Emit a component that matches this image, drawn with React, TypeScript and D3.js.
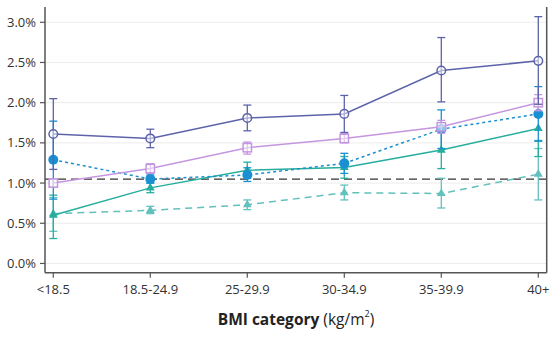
import React from "react";
import * as d3 from "d3";

const categories = ["<18.5", "18.5-24.9", "25-29.9", "30-34.9", "35-39.9", "40+"];
const yTicks = [0, 0.5, 1.0, 1.5, 2.0, 2.5, 3.0];
const referenceValue = 1.05;

const s1Values = [1.61, 1.555, 1.81, 1.86, 2.4, 2.52];
const s1Lower = [1.17, 1.44, 1.65, 1.63, 2.01, 1.98];
const s1Upper = [2.05, 1.67, 1.97, 2.09, 2.81, 3.07];

const s2Values = [1.0, 1.18, 1.44, 1.555, 1.7, 2.0];
const s2Lower = [0.95, 1.12, 1.36, 1.5, 1.62, 1.9];
const s2Upper = [1.05, 1.24, 1.51, 1.62, 1.78, 2.1];

const s3Values = [1.29, 1.05, 1.1, 1.245, 1.67, 1.86];
const s3Lower = [0.8, 1.0, 1.02, 1.12, 1.43, 1.52];
const s3Upper = [1.77, 1.1, 1.19, 1.37, 1.91, 2.2];

const s4Values = [0.6, 0.94, 1.16, 1.195, 1.41, 1.68];
const s4Lower = [0.31, 0.88, 1.06, 1.06, 1.18, 1.33];
const s4Upper = [0.85, 1.0, 1.26, 1.33, 1.64, 1.53];

const s5Values = [0.62, 0.66, 0.73, 0.88, 0.87, 1.11];
const s5Lower = [0.4, 0.62, 0.67, 0.79, 0.69, 0.79];
const s5Upper = [0.82, 0.71, 0.79, 0.975, 1.06, 1.43];

type Series = {
  values: number[];
  lower: number[];
  upper: number[];
  color: string;
  dash: string;
  marker: "openCircle" | "openSquare" | "filledCircle" | "triangle";
};

const series: Series[] = [
  { values: s5Values, lower: s5Lower, upper: s5Upper, color: "#62c0bd", dash: "7,5", marker: "triangle" },
  { values: s4Values, lower: s4Lower, upper: s4Upper, color: "#25ad9e", dash: "", marker: "triangle" },
  { values: s3Values, lower: s3Lower, upper: s3Upper, color: "#1a8fd2", dash: "3,3", marker: "filledCircle" },
  { values: s2Values, lower: s2Lower, upper: s2Upper, color: "#c596e0", dash: "", marker: "openSquare" },
  { values: s1Values, lower: s1Lower, upper: s1Upper, color: "#5d63a9", dash: "", marker: "openCircle" },
];

const W = 554;
const H = 338;
const left = 45;
const right = 546.7;
const top = 7;
const bottom = 272.7;

export default function App() {
  const x = d3.scalePoint<string>().domain(categories).range([53.3, 538.3]);
  const y = d3.scaleLinear().domain([-0.115, 3.19]).range([bottom, top]);
  const line = d3
    .line<number>()
    .x((_, i) => x(categories[i]) as number)
    .y((d) => y(d));
  const font = "'Open Sans', 'Liberation Sans', sans-serif";

  const marker = (s: Series, cx: number, cy: number, key: string) => {
    if (s.marker === "openCircle")
      return <circle key={key} cx={cx} cy={cy} r={4.3} fill="white" fillOpacity={0.5} stroke={s.color} strokeWidth={1.5} />;
    if (s.marker === "openSquare")
      return <rect key={key} x={cx - 4.2} y={cy - 4.2} width={8.4} height={8.4} fill="white" fillOpacity={0.5} stroke={s.color} strokeWidth={1.5} />;
    if (s.marker === "filledCircle")
      return <circle key={key} cx={cx} cy={cy} r={5} fill={s.color} />;
    const t = d3.symbol(d3.symbolTriangle, 34)();
    return <path key={key} d={t as string} transform={`translate(${cx},${cy})`} fill={s.color} />;
  };

  return (
    <svg width={W} height={H} style={{ position: "absolute", left: 0, top: 0, background: "white" }}>
      {yTicks.map((t) => (
        <line key={"g" + t} x1={left} x2={right} y1={y(t)} y2={y(t)} stroke="#ececec" strokeWidth={1} />
      ))}
      <line x1={left} x2={right} y1={y(referenceValue)} y2={y(referenceValue)} stroke="#333" strokeWidth={1.3} strokeDasharray="8,5" />
      {series.map((s, si) => (
        <g key={"s" + si}>
          <path d={line(s.values) as string} fill="none" stroke={s.color} strokeWidth={1.5} strokeDasharray={s.dash} />
          {s.values.map((v, i) => {
            const cx = x(categories[i]) as number;
            return (
              <g key={"e" + i}>
                <line x1={cx} x2={cx} y1={y(s.lower[i])} y2={y(s.upper[i])} stroke={s.color} strokeWidth={1.3} />
                <line x1={cx - 4} x2={cx + 4} y1={y(s.lower[i])} y2={y(s.lower[i])} stroke={s.color} strokeWidth={1.3} />
                <line x1={cx - 4} x2={cx + 4} y1={y(s.upper[i])} y2={y(s.upper[i])} stroke={s.color} strokeWidth={1.3} />
                {marker(s, cx, y(v), "m" + i)}
              </g>
            );
          })}
        </g>
      ))}
      <line x1={left} x2={left} y1={top} y2={bottom} stroke="#555" strokeWidth={1.5} />
      <line x1={right} x2={right} y1={top} y2={bottom} stroke="#555" strokeWidth={1.5} />
      <line x1={left} x2={right} y1={bottom} y2={bottom} stroke="#555" strokeWidth={1.5} />
      {yTicks.map((t) => (
        <g key={"yt" + t}>
          <line x1={left - 5} x2={left} y1={y(t)} y2={y(t)} stroke="#555" strokeWidth={1.2} />
          <text x={left - 9} y={y(t)} dy="0.35em" textAnchor="end" fontFamily={font} fontSize={13} fill="#333">
            {t.toFixed(1) + "%"}
          </text>
        </g>
      ))}
      {categories.map((c) => (
        <g key={"xt" + c}>
          <line x1={x(c) as number} x2={x(c) as number} y1={bottom} y2={bottom + 5} stroke="#555" strokeWidth={1.2} />
          <text x={x(c) as number} y={bottom + 21.5} textAnchor="middle" fontFamily={font} fontSize={13} fill="#333">
            {c}
          </text>
        </g>
      ))}
      <text x={296} y={324.5} textAnchor="middle" fontFamily={font} fontSize={15.5} fill="#222">
        <tspan fontWeight="bold">BMI category</tspan>
        <tspan> (kg/m</tspan>
        <tspan fontSize={9} dy={-8}>2</tspan>
        <tspan dy={8}>)</tspan>
      </text>
    </svg>
  );
}
